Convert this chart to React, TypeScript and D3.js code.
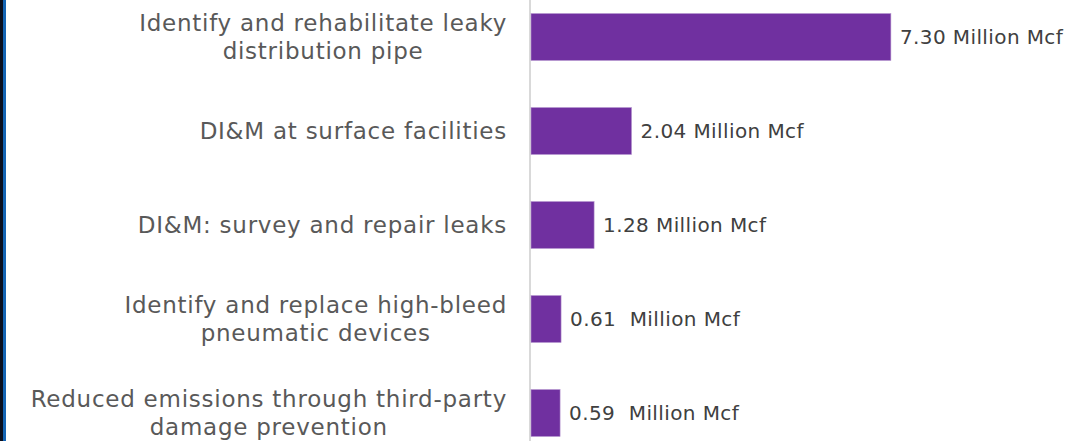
import React from "react";
import * as d3 from "d3";

const categories: string[][] = [
  ["Identify and rehabilitate leaky", "distribution pipe"],
  ["DI&M at surface facilities"],
  ["DI&M: survey and repair leaks"],
  ["Identify and replace high-bleed", "pneumatic devices"],
  ["Reduced emissions through third-party", "damage prevention"],
];
const values: number[] = [7.3, 2.04, 1.28, 0.61, 0.59];
const valueLabels: string[] = ["7.30 Million Mcf", "2.04 Million Mcf", "1.28 Million Mcf", "0.61  Million Mcf", "0.59  Million Mcf"];

const W = 1084;
const H = 441;
const FONT = "'DejaVu Sans', sans-serif";
const LABEL_SIZE = 23;
const LABEL_LS = 0.75;
const VALUE_SIZE = 20;
const VALUE_LS = 0.4;

function measure(text: string, size: number, ls: number): number {
  const c = document.createElement("canvas").getContext("2d");
  if (!c) return text.length * size * 0.55;
  c.font = `${size}px ${FONT}`;
  return c.measureText(text).width + ls * text.length;
}

export default function App() {
  const keys = categories.map((c) => c.join(" "));
  const y = d3.scaleBand<string>().domain(keys).range([-10, 460]).paddingInner(0.5).paddingOuter(0.25);
  const x = d3.scaleLinear().domain([0, 10]).range([530, 1023]);
  const labelRight = 507;
  const lineH = 28;

  return (
    <svg width={W} height={H} style={{ position: "absolute", left: 0, top: 0, background: "#fff" }}>
      <rect x={0} y={0} width={W} height={H} fill="#fff" />
      <rect x={0} y={0} width={3} height={H} fill="#0a0f1e" />
      <rect x={3} y={0} width={3} height={H} fill="#1565b4" />
      <line x1={x(0)} x2={x(0)} y1={0} y2={H} stroke="#d9d9d9" strokeWidth={2} />
      {categories.map((lines, i) => {
        const key = keys[i];
        const cy = (y(key) ?? 0) + y.bandwidth() / 2;
        const maxW = Math.max(...lines.map((l) => measure(l, LABEL_SIZE, LABEL_LS)));
        const cx = labelRight - maxW / 2;
        const startY = cy - ((lines.length - 1) * lineH) / 2;
        return (
          <g key={key}>
            <rect
              x={x(0) + 1}
              y={y(key)}
              width={x(values[i]) - x(0)}
              height={y.bandwidth()}
              fill="#7030a0"
              stroke="#b89ad0"
              strokeWidth={0.6}
            />
            {lines.map((l, j) => (
              <text
                key={j}
                x={cx}
                y={startY + j * lineH}
                textAnchor="middle"
                dominantBaseline="central"
                fontFamily={FONT}
                fontSize={LABEL_SIZE}
                letterSpacing={LABEL_LS}
                fill="#595959"
              >
                {l}
              </text>
            ))}
            <text
              x={x(values[i]) + 10}
              y={cy}
              dominantBaseline="central"
              fontFamily={FONT}
              fontSize={VALUE_SIZE}
              letterSpacing={VALUE_LS}
              fill="#404040"
              style={{ whiteSpace: "pre" }}
            >
              {valueLabels[i]}
            </text>
          </g>
        );
      })}
    </svg>
  );
}
